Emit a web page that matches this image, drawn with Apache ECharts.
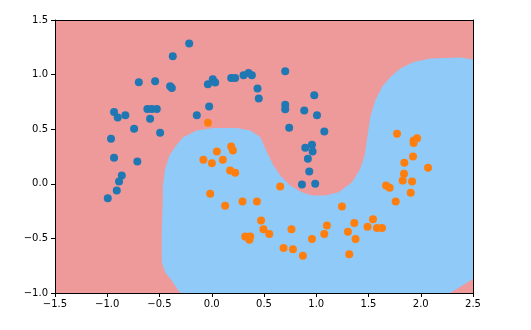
<!DOCTYPE html>
<html>
<head>
<meta charset="utf-8">
<script src="https://cdn.jsdelivr.net/npm/echarts@6/dist/echarts.min.js"></script>
<style>html,body{margin:0;padding:0;background:#fff;}#c{width:531px;height:330px;}</style>
</head>
<body>
<div id="c"></div>
<script>
// Tick labels
var xTicks = [-1.5, -1.0, -0.5, 0.0, 0.5, 1.0, 1.5, 2.0, 2.5];
var yTicks = [-1.0, -0.5, 0.0, 0.5, 1.0, 1.5];

// Class 0 points (blue)
var class0X = [-0.216,-0.373,-0.698,-0.542,-0.398,-0.382,-0.037,0.010,0.033,0.186,0.224,0.304,0.352,0.384,0.438,0.450,-0.025,-0.143,-0.935,-0.900,-0.827,-0.616,-0.574,-0.526,-0.590,-0.743,-0.494,-0.964,-0.935,-0.712,-0.861,-0.887,-0.909,-0.995,0.703,0.981,0.703,0.703,0.885,1.007,0.741,1.077,0.895,0.959,0.965,0.920,0.933,0.863,0.990];
var class0Y = [1.285,1.168,0.929,0.939,0.893,0.877,0.911,0.957,0.927,0.969,0.969,0.994,1.015,0.994,0.872,0.780,0.709,0.627,0.657,0.606,0.627,0.684,0.684,0.684,0.596,0.505,0.468,0.413,0.239,0.205,0.076,0.021,-0.061,-0.132,1.030,0.810,0.725,0.682,0.672,0.627,0.514,0.480,0.330,0.358,0.296,0.229,0.113,-0.006,0.000];

// Class 1 points (orange)
var class1X = [-0.037,0.049,0.186,0.202,-0.080,0.001,0.106,0.176,0.224,-0.015,0.128,0.294,0.432,0.472,0.320,0.368,0.360,0.655,0.495,0.550,0.763,0.687,0.777,0.872,0.959,1.077,1.102,1.246,1.303,1.364,1.376,1.316,1.491,1.543,1.581,1.629,1.668,1.702,1.760,1.827,1.840,1.917,1.904,1.843,1.926,2.070,1.773,1.932,1.965,1.932];
var class1Y = [0.560,0.296,0.342,0.306,0.220,0.189,0.220,0.122,0.101,-0.092,-0.200,-0.162,-0.162,-0.337,-0.483,-0.483,-0.512,-0.025,-0.416,-0.459,-0.416,-0.587,-0.600,-0.658,-0.505,-0.459,-0.383,-0.208,-0.438,-0.358,-0.505,-0.646,-0.394,-0.325,-0.404,-0.404,-0.016,-0.037,-0.162,0.030,0.092,0.021,-0.083,0.193,0.250,0.147,0.459,0.397,0.418,0.373];

// Decision region of class 1 (boundary outline, data coordinates)
var regionX = [-0.300,-0.319,-0.382,-0.446,-0.478,-0.478,-0.468,-0.468,-0.446,-0.405,-0.341,-0.271,-0.143,0.016,0.240,0.368,0.464,0.528,0.591,0.655,0.751,0.863,0.959,1.086,1.214,1.342,1.421,1.463,1.484,1.517,1.565,1.629,1.709,1.805,1.932,2.092,2.379,2.500,2.500,2.293,2.280];
var regionY = [-1.000,-0.979,-0.887,-0.811,-0.719,-0.428,-0.107,-0.016,0.138,0.260,0.351,0.428,0.489,0.510,0.510,0.489,0.428,0.290,0.168,0.076,-0.016,-0.077,-0.107,-0.107,-0.077,0.015,0.138,0.260,0.397,0.611,0.764,0.886,0.978,1.055,1.116,1.147,1.156,1.138,-0.872,-0.994,-1.000];

function zip(a, b) { return a.map(function (v, i) { return [v, b[i]]; }); }
function fmt(v) { return v.toFixed(1).replace('-', '\u2212'); }

var chart = echarts.init(document.getElementById('c'), null, { renderer: 'canvas' });
var axisCommon = {
  type: 'value',
  z: 10,
  axisLine: { show: true, onZero: false, lineStyle: { color: '#000', width: 1 } },
  axisTick: { show: true, inside: false, length: 4, lineStyle: { color: '#000', width: 1 } },
  splitLine: { show: false },
  axisLabel: { color: '#000', fontSize: 10, fontFamily: 'DejaVu Sans', formatter: fmt }
};
chart.setOption({
  animation: false,
  backgroundColor: '#fff',
  grid: { left: 55, top: 20, width: 418, height: 273, show: true, backgroundColor: '#EF9A9A', borderWidth: 0 },
  xAxis: [
    Object.assign({}, axisCommon, { min: xTicks[0], max: xTicks[xTicks.length - 1], interval: 0.5,
      axisLabel: Object.assign({}, axisCommon.axisLabel, { margin: 6 }) }),
    { type: 'value', position: 'top', z: 10, min: xTicks[0], max: xTicks[xTicks.length - 1],
      axisLine: { show: true, onZero: false, lineStyle: { color: '#000', width: 1 } },
      axisTick: { show: false }, axisLabel: { show: false }, splitLine: { show: false } }
  ],
  yAxis: [
    Object.assign({}, axisCommon, { min: yTicks[0], max: yTicks[yTicks.length - 1], interval: 0.5,
      axisLabel: Object.assign({}, axisCommon.axisLabel, { margin: 7 }) }),
    { type: 'value', position: 'right', z: 10, min: yTicks[0], max: yTicks[yTicks.length - 1],
      axisLine: { show: true, onZero: false, lineStyle: { color: '#000', width: 1 } },
      axisTick: { show: false }, axisLabel: { show: false }, splitLine: { show: false } }
  ],
  series: [
    {
      type: 'custom',
      z: 1,
      clip: true,
      data: zip(regionX, regionY),
      encode: { x: 0, y: 1 },
      renderItem: function (params, api) {
        if (params.dataIndex !== 0) return null;
        var pts = regionX.map(function (x, i) { return api.coord([x, regionY[i]]); });
        return { type: 'polygon', shape: { points: pts, smooth: 0 }, style: { fill: '#90CAF9', stroke: null } };
      }
    },
    {
      type: 'scatter', z: 5, symbol: 'circle', symbolSize: 8,
      itemStyle: { color: '#1f77b4', opacity: 1 },
      data: zip(class0X, class0Y)
    },
    {
      type: 'scatter', z: 5, symbol: 'circle', symbolSize: 8,
      itemStyle: { color: '#ff7f0e', opacity: 1 },
      data: zip(class1X, class1Y)
    }
  ]
});
</script>
</body>
</html>
